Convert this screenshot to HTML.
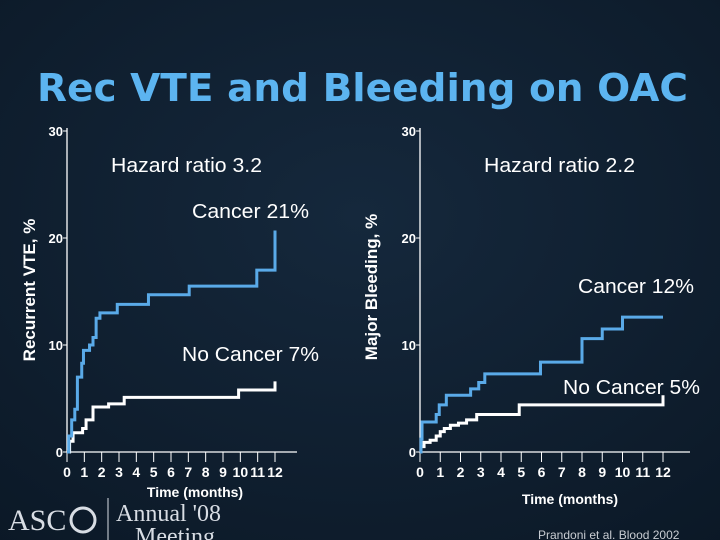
<!DOCTYPE html>
<html><head><meta charset="utf-8"><style>
body{margin:0;background:#0e1c2c;}
svg{display:block;font-family:"Liberation Sans",Arial,sans-serif;}
</style></head><body>
<svg id="c" width="720" height="540" viewBox="0 0 720 540">
<defs><radialGradient id="bg" cx="0.5" cy="0.4" r="0.8"><stop offset="0" stop-color="#15283c"/><stop offset="1" stop-color="#0b1826"/></radialGradient></defs>
<rect width="720" height="540" fill="url(#bg)"/>
<text x="37" y="101" font-family="DejaVu Sans" font-weight="bold" font-size="38" fill="#5cb4f0" textLength="651" lengthAdjust="spacingAndGlyphs">Rec VTE and Bleeding on OAC</text>
<g id="left"></g>
<g id="right"></g>
<text x="8" y="530" font-family="Liberation Serif" font-size="30" fill="#d8dde4">ASC</text>
<circle cx="83" cy="520" r="12" fill="none" stroke="#d8dde4" stroke-width="3"/>
<line x1="108" y1="498" x2="108" y2="540" stroke="#d8dde4" stroke-width="1"/>
<text x="116" y="521" font-family="Liberation Serif" font-size="24" fill="#d8dde4">Annual '08</text>
<text x="135" y="544" font-family="Liberation Serif" font-size="24" fill="#d8dde4">Meeting</text>
<text x="538" y="539" font-size="12" fill="#c8ccd2">Prandoni et al. Blood 2002</text>
</svg>
<script>
const months=[0,1,2,3,4,5,6,7,8,9,10,11,12];
const yTicks=[0,10,20,30];
const vteCancerT=[0,0.1,0.27,0.45,0.6,0.85,0.95,1.3,1.5,1.68,1.9,2.9,4.7,7.05,10.95,12];
const vteCancerV=[0,1.5,3,4,7,8.3,9.5,10,10.7,12.5,13,13.8,14.7,15.5,17,20.7];
const vteNoCancerT=[0,0.15,0.35,0.9,1.1,1.5,2.4,3.3,9.9,12];
const vteNoCancerV=[0,1,1.8,2.2,3,4.2,4.5,5.1,5.8,6.6];
const bleedCancerT=[0,0.05,0.1,0.8,0.95,1.3,2.5,2.9,3.2,5.95,8,9,10,12];
const bleedCancerV=[0,1.2,2.8,3.5,4.4,5.3,5.9,6.5,7.3,8.4,10.6,11.5,12.6,12.6];
const bleedNoCancerT=[0,0.05,0.2,0.5,0.8,1.0,1.2,1.5,1.9,2.3,2.8,4.9,12];
const bleedNoCancerV=[0,0.5,0.9,1.1,1.5,1.9,2.2,2.5,2.7,3.0,3.5,4.4,5.3];
const NS='http://www.w3.org/2000/svg';
function mk(p,tag,a){const e=document.createElementNS(NS,tag);for(const k in a)e.setAttribute(k,a[k]);p.appendChild(e);return e;}
function chart(g,cfg){
  const sx=m=>cfg.x0+m*(cfg.x12-cfg.x0)/12, sy=v=>452-v*(452-131)/30;
  const ya=mk(g,'line',{x1:cfg.x0,y1:128,x2:cfg.x0,y2:452,stroke:'#fff','stroke-width':1.3});
  
  const xa=mk(g,'line',{x1:cfg.x0,y1:452,x2:cfg.xEnd,y2:452,stroke:'#fff','stroke-width':1.3});
  
  yTicks.forEach(v=>{
    const l=mk(g,'line',{x1:cfg.x0-4,x2:cfg.x0,y1:sy(v),y2:sy(v),stroke:'#fff'});
    
    const t=mk(g,'text',{x:cfg.x0-4,y:sy(v)+5,'text-anchor':'end','font-size':13,'font-weight':'bold',fill:'#fff'});
    t.textContent=v;
  });
  months.forEach(m=>{
    const l=mk(g,'line',{x1:sx(m),x2:sx(m),y1:452,y2:462,stroke:'#fff'});
    
    const t=mk(g,'text',{x:sx(m),y:477,'text-anchor':'middle','font-size':14,'font-weight':'bold',fill:'#fff'});
    t.textContent=m;
  });
  const xt=mk(g,'text',{x:cfg.xTitle,y:cfg.xTitleY,'text-anchor':'middle','font-size':14,'font-weight':'bold',fill:'#fff'});
  xt.textContent='Time (months)';
  const yt=mk(g,'text',{x:0,y:0,transform:`translate(${cfg.yTitleX},${cfg.yTitleY}) rotate(-90)`,'text-anchor':'middle','font-size':17,'font-weight':'bold',fill:'#fff'});
  yt.textContent=cfg.yTitle;
  function step(T,V,col,name){
    let d=`M${sx(T[0])},${sy(V[0])}`;
    for(let i=1;i<T.length;i++){d+=`H${sx(T[i])}V${sy(V[i])}`;}
    const p=mk(g,'path',{d:d,fill:'none',stroke:col,'stroke-width':3});
    
  }
  step(cfg.nT,cfg.nV,'#ffffff','no-cancer-line');
  step(cfg.cT,cfg.cV,'#5aaae8','cancer-line');
  cfg.labels.forEach(L=>{
    const t=mk(g,'text',{x:L[1],y:L[2],'font-size':20,fill:'#fff',textLength:L[4],lengthAdjust:'spacingAndGlyphs'});
    t.textContent=L[0];
  });
}
chart(document.getElementById('left'),{x0:67,x12:275,xEnd:297,xTitle:195,xTitleY:497,yTitle:'Recurrent VTE, %',yTitleX:35,yTitleY:290,
  cT:vteCancerT,cV:vteCancerV,nT:vteNoCancerT,nV:vteNoCancerV,
  labels:[['Hazard ratio 3.2',111,172,'hazard-ratio-label',151],['Cancer 21%',192,218,'cancer-label',117],['No Cancer 7%',182,361,'no-cancer-label',137]]});
chart(document.getElementById('right'),{x0:420,x12:663,xEnd:690,xTitle:570,xTitleY:504,yTitle:'Major Bleeding, %',yTitleX:377,yTitleY:287,
  cT:bleedCancerT,cV:bleedCancerV,nT:bleedNoCancerT,nV:bleedNoCancerV,
  labels:[['Hazard ratio 2.2',484,172,'hazard-ratio-label',151],['Cancer 12%',578,293,'cancer-label',116],['No Cancer 5%',563,394,'no-cancer-label',137]]});
</script>
</body></html>
